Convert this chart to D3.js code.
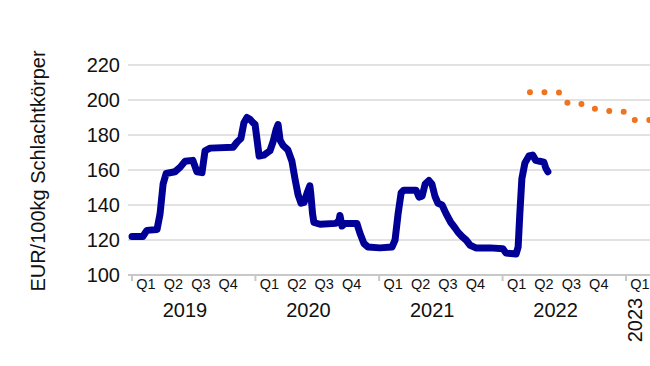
<!DOCTYPE html>
<html><head><meta charset="utf-8">
<script src="https://cdn.jsdelivr.net/npm/d3@7"></script>
<style>html,body{margin:0;padding:0;background:#fff;}svg{display:block;font-family:"Liberation Sans",Arial,sans-serif;}</style>
</head><body><svg id="c" width="650" height="366"></svg>
<script>
// ---- data ----
const priceDates = ["2019-01-01","2019-02-02","2019-02-14","2019-03-16","2019-03-25","2019-04-03","2019-04-12","2019-05-08","2019-05-23","2019-06-07","2019-06-30","2019-07-12","2019-07-27","2019-08-05","2019-08-20","2019-10-27","2019-11-08","2019-11-19","2019-11-28","2019-12-07","2019-12-16","2019-12-25","2019-12-31","2020-01-12","2020-01-26","2020-02-13","2020-02-22","2020-03-02","2020-03-08","2020-03-14","2020-03-23","2020-04-06","2020-04-18","2020-04-27","2020-05-06","2020-05-15","2020-05-24","2020-06-02","2020-06-10","2020-06-13","2020-06-18","2020-06-22","2020-07-10","2020-08-26","2020-09-04","2020-09-07","2020-09-13","2020-09-22","2020-10-27","2020-11-05","2020-11-17","2020-11-29","2021-01-03","2021-02-08","2021-02-17","2021-02-26","2021-03-07","2021-03-15","2021-04-20","2021-04-29","2021-05-08","2021-05-17","2021-05-28","2021-06-06","2021-06-15","2021-06-24","2021-07-06","2021-07-18","2021-08-01","2021-08-13","2021-08-22","2021-09-03","2021-09-15","2021-09-27","2021-10-14","2021-11-25","2022-01-02","2022-01-11","2022-02-10","2022-02-16","2022-02-21","2022-02-27","2022-03-08","2022-03-20","2022-03-31","2022-04-09","2022-04-21","2022-05-03","2022-05-09","2022-05-15"];
const priceValues = [122,122,125.5,126,135,152,158,159,161.5,165,165.5,159,158.5,171,172.5,173,176,178,187,190,189,187,186,168,168.5,171,176,183,186,177,174,171.5,165,155,146,141,141.5,147,151,146,135,130,129,129.5,131,134,128,129.5,129.5,124,118,116,115.5,116,120,135,147,148.5,148.5,144.5,145,152,154,152,145,141,140,135,130,127,124.5,122,120,117,115.5,115.5,115,112.5,112,116,135,155,164,168,168.5,165.5,165,164.5,161,159];
const futureDates = ["2022-03-23","2022-06-25","2022-07-13","2022-09-01","2022-10-01","2022-11-11","2022-12-25","2023-01-18","2023-04-01"];
const futureValues = [204.5,204.3,198,197.7,195,193.8,193.3,188.6,188.6];
const yTicks = [100,120,140,160,180,200,220];
const years = ["2019","2020","2021","2022","2023"];
const quarters = ["Q1","Q2","Q3","Q4"];
const yTitle = "EUR/100kg Schlachtkörper";

// ---- layout ----
const W = 650, H = 366;
const parse = d3.timeParse("%Y-%m-%d");
const svg = d3.select("#c");
const x = d3.scaleTime().domain([parse("2019-01-01"), parse("2023-01-01")]).range([132, 626]);
const y = d3.scaleLinear().domain([100, 220]).range([275, 65]);
const plotLeft = 128, plotRight = W;

// gridlines
svg.append("g").selectAll("line").data(yTicks.filter(v => v > 100)).join("line")
  .attr("x1", plotLeft).attr("x2", plotRight)
  .attr("y1", d => y(d)).attr("y2", d => y(d))
  .attr("stroke", "#d9d9d9").attr("stroke-width", 1.5);

// y tick labels
svg.append("g").selectAll("text").data(yTicks).join("text")
  .attr("x", 120).attr("y", d => y(d)).attr("dy", "0.35em")
  .attr("text-anchor", "end").attr("font-size", 20).attr("fill", "#111")
  .text(d => d);

// y title
svg.append("text").attr("transform", `translate(45,171) rotate(-90)`)
  .attr("text-anchor", "middle").attr("font-size", 20).attr("fill", "#111")
  .text(yTitle);

// x axis line
svg.append("line").attr("x1", plotLeft).attr("x2", plotRight)
  .attr("y1", y(100)).attr("y2", y(100)).attr("stroke", "#c8c8c8").attr("stroke-width", 2);

// year separators
const yearDates = years.map(s => parse(s + "-01-01"));
svg.append("g").selectAll("line").data(yearDates).join("line")
  .attr("x1", d => x(d)).attr("x2", d => x(d))
  .attr("y1", y(100)).attr("y2", y(100) + 6)
  .attr("stroke", "#c8c8c8").attr("stroke-width", 2);

// quarter labels (only those that fit in the window)
const qData = [];
yearDates.forEach(yd => quarters.forEach((q, i) => {
  const cx = x(yd) + 14 + i * 27.4;
  if (cx < W - 8) qData.push({cx, q});
}));
svg.append("g").selectAll("text").data(qData).join("text")
  .attr("x", d => d.cx).attr("y", 289)
  .attr("text-anchor", "middle").attr("font-size", 14.5).attr("fill", "#111")
  .text(d => d.q);

// year labels
svg.append("g").selectAll("text").data(yearDates.slice(0, 4).map((d, i) => ({d, t: years[i]}))).join("text")
  .attr("x", d => x(d.d) + 53).attr("y", 317)
  .attr("text-anchor", "middle").attr("font-size", 20).attr("fill", "#111")
  .text(d => d.t);
svg.append("text").attr("transform", `translate(${x(yearDates[4]) + 16},320) rotate(-90)`)
  .attr("text-anchor", "middle").attr("font-size", 20).attr("fill", "#111")
  .text(years[4]);

// lines
const line = d3.line().x(d => x(d[0])).y(d => y(d[1]));
svg.append("clipPath").attr("id", "clp").append("rect")
  .attr("x", 0).attr("y", 0).attr("width", W).attr("height", H);

svg.append("path")
  .datum(priceDates.map((d, i) => [parse(d), priceValues[i]]))
  .attr("d", line).attr("fill", "none")
  .attr("stroke", "#000096").attr("stroke-width", 7)
  .attr("stroke-linejoin", "round").attr("stroke-linecap", "round");

svg.append("path")
  .datum(futureDates.map((d, i) => [parse(d), futureValues[i]]))
  .attr("d", line).attr("fill", "none")
  .attr("stroke", "#ee7420").attr("stroke-width", 6)
  .attr("stroke-dasharray", "0 14.5").attr("stroke-linecap", "round")
  .attr("clip-path", "url(#clp)");
</script></body></html>
